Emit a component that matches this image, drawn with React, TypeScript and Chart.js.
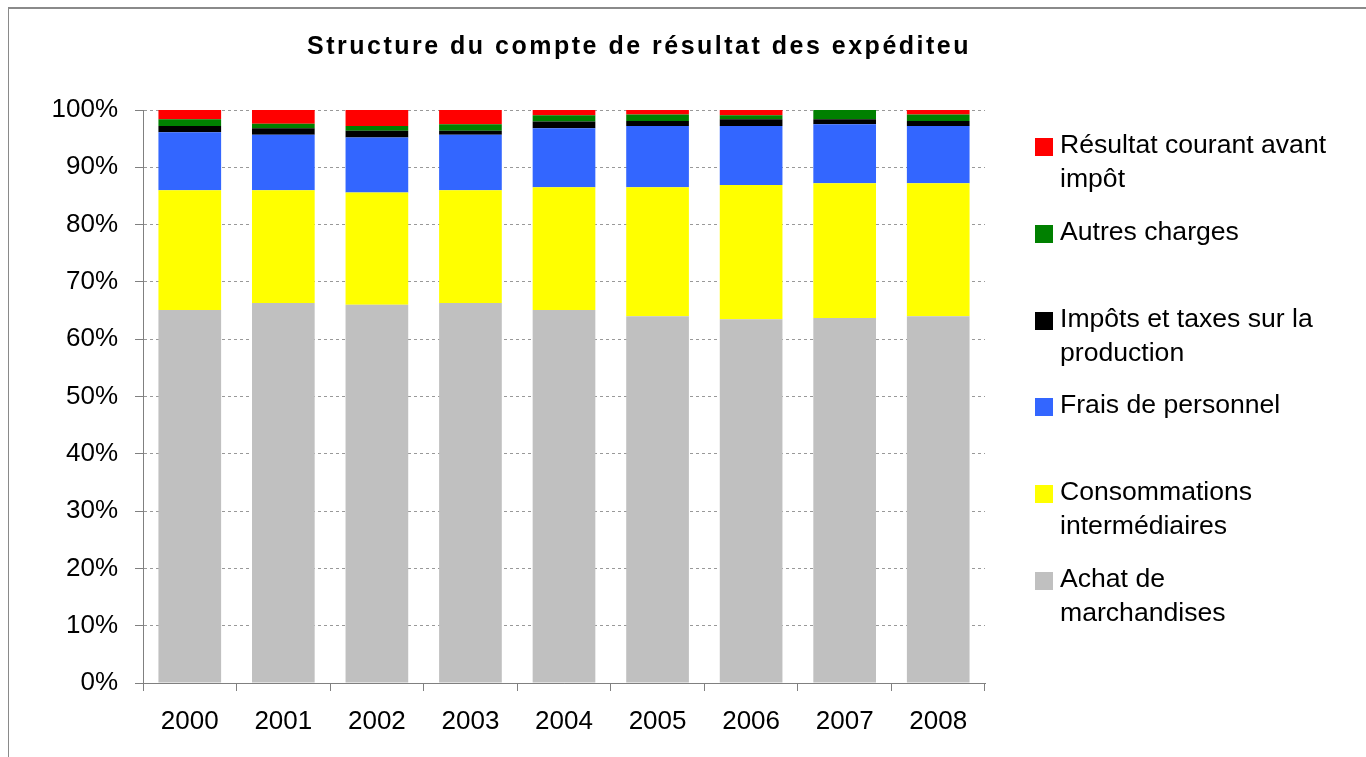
import React, { useEffect, useRef } from "react";
import { Chart, registerables } from "chart.js";

Chart.register(...registerables);

const TITLE = "Structure du compte de résultat des expéditeu";
const YEARS = ["2000", "2001", "2002", "2003", "2004", "2005", "2006", "2007", "2008"];

// bottom to top
const ACHAT = [65.1, 66.3, 66.0, 66.3, 65.1, 64.0, 63.5, 63.7, 64.0];
const CONSO = [20.9, 19.7, 19.6, 19.7, 21.4, 22.5, 23.4, 23.5, 23.2];
const FRAIS = [10.1, 9.7, 9.6, 9.7, 10.3, 10.7, 10.3, 10.3, 10.0];
const IMPOTS = [1.1, 1.1, 1.2, 0.7, 1.2, 0.9, 1.2, 0.9, 0.9];
const AUTRES = [1.2, 0.8, 0.8, 1.1, 1.1, 1.1, 0.7, 1.6, 1.1];
const RESULTAT = [1.6, 2.4, 2.8, 2.5, 0.9, 0.9, 0.9, 0.0, 0.9];

const SERIES_NAMES = [
  ["Achat de", "marchandises"],
  ["Consommations", "intermédiaires"],
  ["Frais de personnel"],
  ["Impôts et taxes sur la", "production"],
  ["Autres charges"],
  ["Résultat courant avant", "impôt"],
];
const SERIES_VALUES = [ACHAT, CONSO, FRAIS, IMPOTS, AUTRES, RESULTAT];
const SERIES_COLORS = ["#C0C0C0", "#FFFF00", "#3366FF", "#000000", "#008000", "#FF0000"];
const Y_TICKS = [0, 10, 20, 30, 40, 50, 60, 70, 80, 90, 100];

const FONT = "'Liberation Sans', Arial, sans-serif";

export default function App() {
  const ref = useRef<HTMLCanvasElement | null>(null);

  useEffect(() => {
    if (!ref.current) return;
    const chart = new Chart(ref.current, {
      type: "bar",
      data: {
        labels: YEARS,
        datasets: SERIES_VALUES.map((vals, i) => ({
          label: SERIES_NAMES[i].join(" "),
          data: vals,
          backgroundColor: SERIES_COLORS[i],
          borderWidth: 0,
          barPercentage: 0.67,
          categoryPercentage: 1,
        })),
      },
      options: {
        animation: false,
        responsive: false,
        devicePixelRatio: 1,
        layout: { padding: { top: 110, left: 0, right: 381, bottom: 0 } },
        plugins: {
          legend: { display: false },
          title: { display: false },
          tooltip: { enabled: false },
        },
        scales: {
          x: {
            stacked: true,
            afterFit: (s: any) => {
              s.height = 74;
            },
            grid: {
              drawOnChartArea: false,
              drawTicks: true,
              tickLength: 8,
              offset: true,
              color: "#808080",
              lineWidth: 1,
            },
            border: { display: true, color: "#808080", width: 1 },
            ticks: {
              color: "#000",
              padding: 15,
              font: { family: FONT, size: 26 },
              maxRotation: 0,
            },
          },
          y: {
            stacked: true,
            min: 0,
            max: 100,
            afterFit: (s: any) => {
              s.width = 143;
            },
            afterBuildTicks: (s: any) => {
              s.ticks = Y_TICKS.map((v) => ({ value: v }));
            },
            grid: {
              color: "#999999",
              lineWidth: 1,
              tickLength: 8,
              tickColor: "#808080",
              tickBorderDash: [],
              tickWidth: 1,
            } as any,
            border: { display: true, color: "#808080", width: 1, dash: [3, 3] },
            ticks: {
              color: "#000",
              padding: 17,
              font: { family: FONT, size: 26 },
              callback: (v: any) => v + "%",
            },
          },
        },
      },
    });
    return () => chart.destroy();
  }, []);

  const legendOrder = SERIES_NAMES.map((_, i) => i).reverse();

  return (
    <div
      style={{
        position: "fixed",
        left: 0,
        top: 0,
        width: 1366,
        height: 757,
        overflow: "hidden",
        background: "#fff",
      }}
    >
      <div
        style={{
          position: "absolute",
          left: 8,
          top: 7,
          width: 1500,
          height: 900,
          borderTop: "2px solid #8a8a8a",
          borderLeft: "1.5px solid #8a8a8a",
        }}
      />
      <canvas ref={ref} width={1366} height={757} style={{ position: "absolute", left: 0, top: 0 }} />
      <div
        style={{
          position: "absolute",
          left: 0,
          width: 1278,
          top: 30,
          textAlign: "center",
          fontFamily: FONT,
          fontWeight: "bold",
          fontSize: 25,
          letterSpacing: "2.5px",
          lineHeight: "30px",
          color: "#000",
          whiteSpace: "nowrap",
        }}
      >
        {TITLE}
      </div>
      {legendOrder.map((si, k) => {
        const top = 138 + k * 86.8;
        return (
          <div key={si}>
            <div
              style={{
                position: "absolute",
                left: 1035,
                top: top,
                width: 18,
                height: 18,
                background: SERIES_COLORS[si],
              }}
            />
            <div
              style={{
                position: "absolute",
                left: 1060,
                top: top - 11,
                fontFamily: FONT,
                fontSize: 26.6,
                lineHeight: "34px",
                color: "#000",
                whiteSpace: "nowrap",
              }}
            >
              {SERIES_NAMES[si].map((line, j) => (
                <div key={j}>{line}</div>
              ))}
            </div>
          </div>
        );
      })}
    </div>
  );
}
